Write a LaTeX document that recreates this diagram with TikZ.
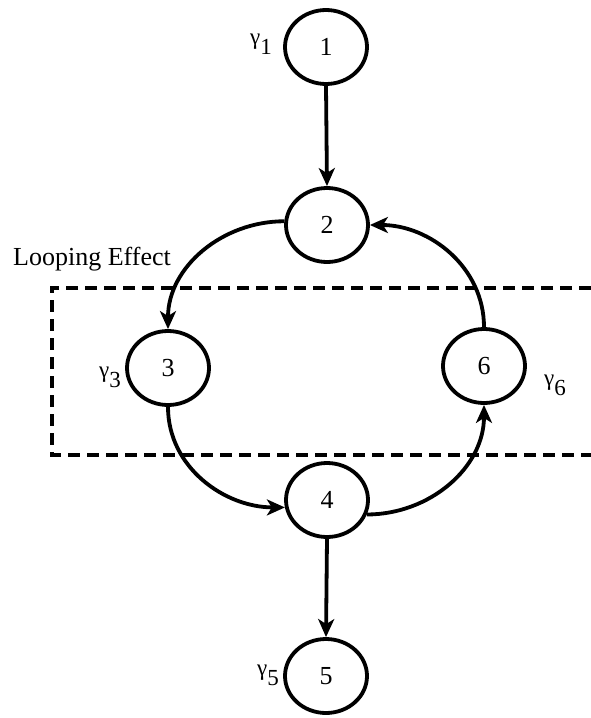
\documentclass[tikz,border=0pt]{standalone}
\usepackage{fontspec}
\setmainfont{Liberation Serif}
\usetikzlibrary{arrows.meta,shapes.geometric}
\begin{document}
\begin{tikzpicture}[x=1pt,y=-1pt,
  st/.style={draw,ellipse,line width=3.8pt,minimum width=82pt,minimum height=74pt,inner sep=0pt,font=\fontsize{26}{30}\selectfont},
  gl/.style={inner sep=0pt,font=\fontsize{23}{27}\selectfont},
  ar/.style={line width=3.8pt,-{Stealth[length=18pt,width=16pt,inset=5pt]}},
  box/.style={line width=3.8pt,dash pattern=on 12pt off 7pt}]
\useasboundingbox (0,0) rectangle (591,718);
\node[st] (n1) at (326,47) {1};
\node[st] (n2) at (327,225) {2};
\node[st] (n3) at (168,368) {3};
\node[st] (n6) at (484,366) {6};
\node[st] (n4) at (327,500) {4};
\node[st] (n5) at (326,676) {5};
\node[gl] (g1) at (261,44) {\raisebox{4pt}{γ}\lower6pt\hbox{1}};
\node[gl] (g3) at (110,377) {\raisebox{4pt}{γ}\lower6pt\hbox{3}};
\node[gl] (g6) at (555,385) {\raisebox{4pt}{γ}\lower6pt\hbox{6}};
\node[gl] (g5) at (268,675) {\raisebox{4pt}{γ}\lower6pt\hbox{5}};
\node[anchor=base west,inner sep=0pt,font=\fontsize{26}{30}\selectfont] (le) at (13,265) {Looping Effect};
\coordinate (r1) at (591,288);
\coordinate (r2) at (52,288);
\coordinate (r3) at (52,455);
\coordinate (r4) at (591,455);
\draw[box] (r1) -- (r2) -- (r3) -- (r4);
\draw[ar] (n1.south) -- (n2.north);
\draw[ar] (n2.175) to[out=180,in=90] (n3.north);
\draw[ar] (n3.south) to[out=-90,in=180] (n4.190);
\draw[ar] (n4.-20) to[out=0,in=-90] (n6.south);
\draw[ar] (n6.north) to[out=90,in=0] (n2.east);
\draw[ar] (n4.south) -- (n5.north);
\end{tikzpicture}
\end{document}
